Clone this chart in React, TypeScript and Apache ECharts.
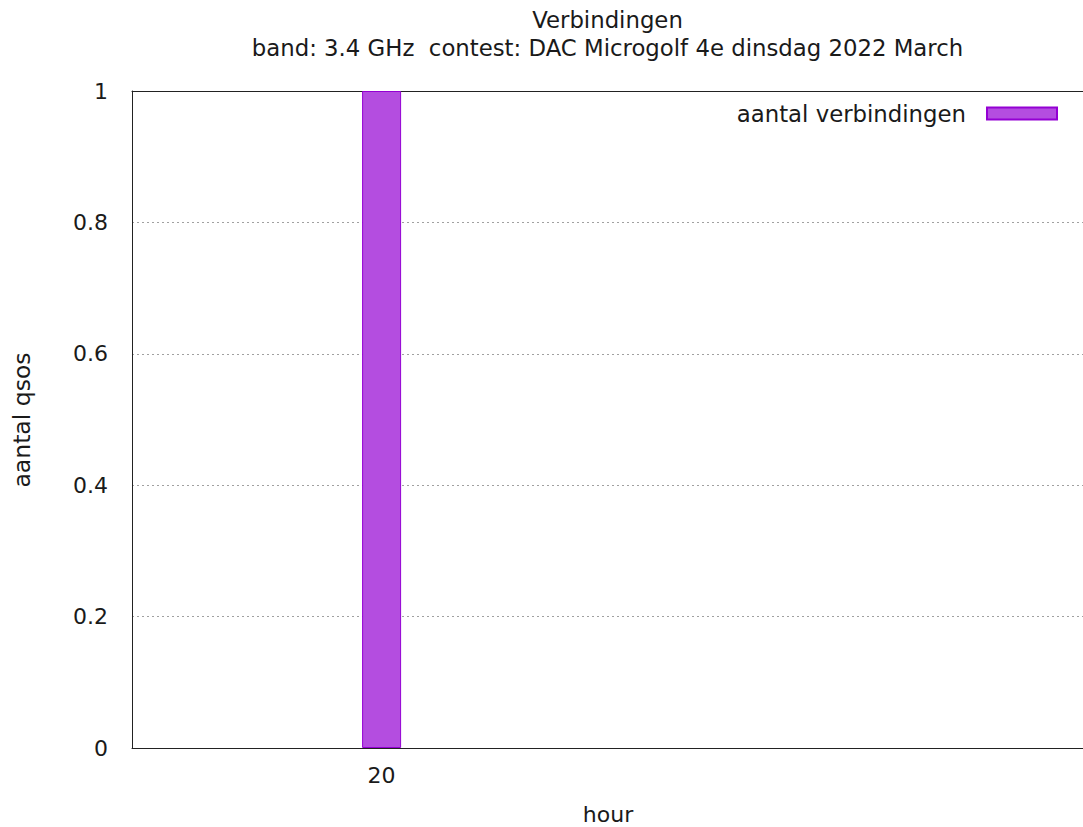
import React, { useEffect, useRef } from "react";
import * as echarts from "echarts";

const titleLines = ["Verbindingen", "band: 3.4 GHz  contest: DAC Microgolf 4e dinsdag 2022 March"];
const hours = [20];
const counts = [1];
const seriesName = "aantal verbindingen";
const xLabel = "hour";
const yLabel = "aantal qsos";

const FONT = "DejaVu Sans";
const FS = 22;
const TXT = "#1a1a1a";
const X_MIN = 19;
const X_MAX = 22.81;

export default function App() {
  const ref = useRef<HTMLDivElement>(null);
  useEffect(() => {
    if (!ref.current) return;
    const chart = echarts.init(ref.current, null, { renderer: "svg" });
    chart.setOption({
      animation: false,
      backgroundColor: "#ffffff",
      textStyle: { fontFamily: FONT },
      title: {
        text: titleLines.join("\n"),
        left: 607.5,
        top: 6,
        padding: 0,
        textAlign: "center",
        textStyle: { fontFamily: FONT, fontSize: 22.8, fontWeight: "normal", color: TXT, lineHeight: 28 },
      },
      legend: {
        right: 25,
        top: 102,
        padding: 0,
        align: "right",
        icon: "rect",
        itemWidth: 70,
        itemHeight: 12,
        textStyle: { fontFamily: FONT, fontSize: 22.8, color: TXT, padding: [0, 16, 0, 0] },
        data: [seriesName],
      },
      grid: {
        left: 132,
        top: 91,
        right: 0,
        bottom: 79,
        show: false,
        containLabel: false,
      },
      xAxis: [
        {
          type: "value",
          min: X_MIN,
          max: X_MAX,
          interval: 1,
          axisLine: { show: true, onZero: false, lineStyle: { color: "#222" } },
          axisTick: { show: false },
          splitLine: { show: false },
          axisLabel: {
            margin: 16,
            fontFamily: FONT,
            fontSize: FS,
            color: TXT,
            showMinLabel: false,
            showMaxLabel: false,
            formatter: (v: number) => (hours.includes(v) ? String(v) : ""),
          },
        },
        {
          type: "value",
          position: "top",
          min: X_MIN,
          max: X_MAX,
          interval: 1,
          axisLine: { show: true, onZero: false, lineStyle: { color: "#222" } },
          axisTick: { show: false },
          axisLabel: { show: false },
          splitLine: { show: false },
        },
      ],
      yAxis: {
        type: "value",
        min: 0,
        max: 1,
        interval: 0.2,
        axisLine: { show: true, onZero: false, lineStyle: { color: "#222" } },
        axisTick: { show: false },
        axisLabel: { margin: 24, fontFamily: FONT, fontSize: FS, color: TXT },
        splitLine: { show: true, lineStyle: { color: "#a0a0a0", type: [2, 3], width: 1 } },
      },
      graphic: [
        {
          type: "text",
          x: 608,
          y: 814,
          style: { text: xLabel, font: `${FS}px '${FONT}'`, fill: TXT, textAlign: "center", textVerticalAlign: "middle" },
        },
        {
          type: "text",
          x: 22,
          y: 420,
          rotation: Math.PI / 2,
          style: { text: yLabel, font: `23.5px '${FONT}'`, fill: TXT, textAlign: "center", textVerticalAlign: "middle" },
        },
      ],
      series: [
        {
          name: seriesName,
          type: "bar",
          barWidth: 39,
          xAxisIndex: 0,
          data: hours.map((h, i) => [h, counts[i]]),
          itemStyle: { color: "#b44de0", borderColor: "#9400d3", borderWidth: 1 },
        },
      ],
    });
    return () => chart.dispose();
  }, []);
  return <div ref={ref} style={{ position: "fixed", left: 0, top: 0, width: 1083, height: 827 }} />;
}
